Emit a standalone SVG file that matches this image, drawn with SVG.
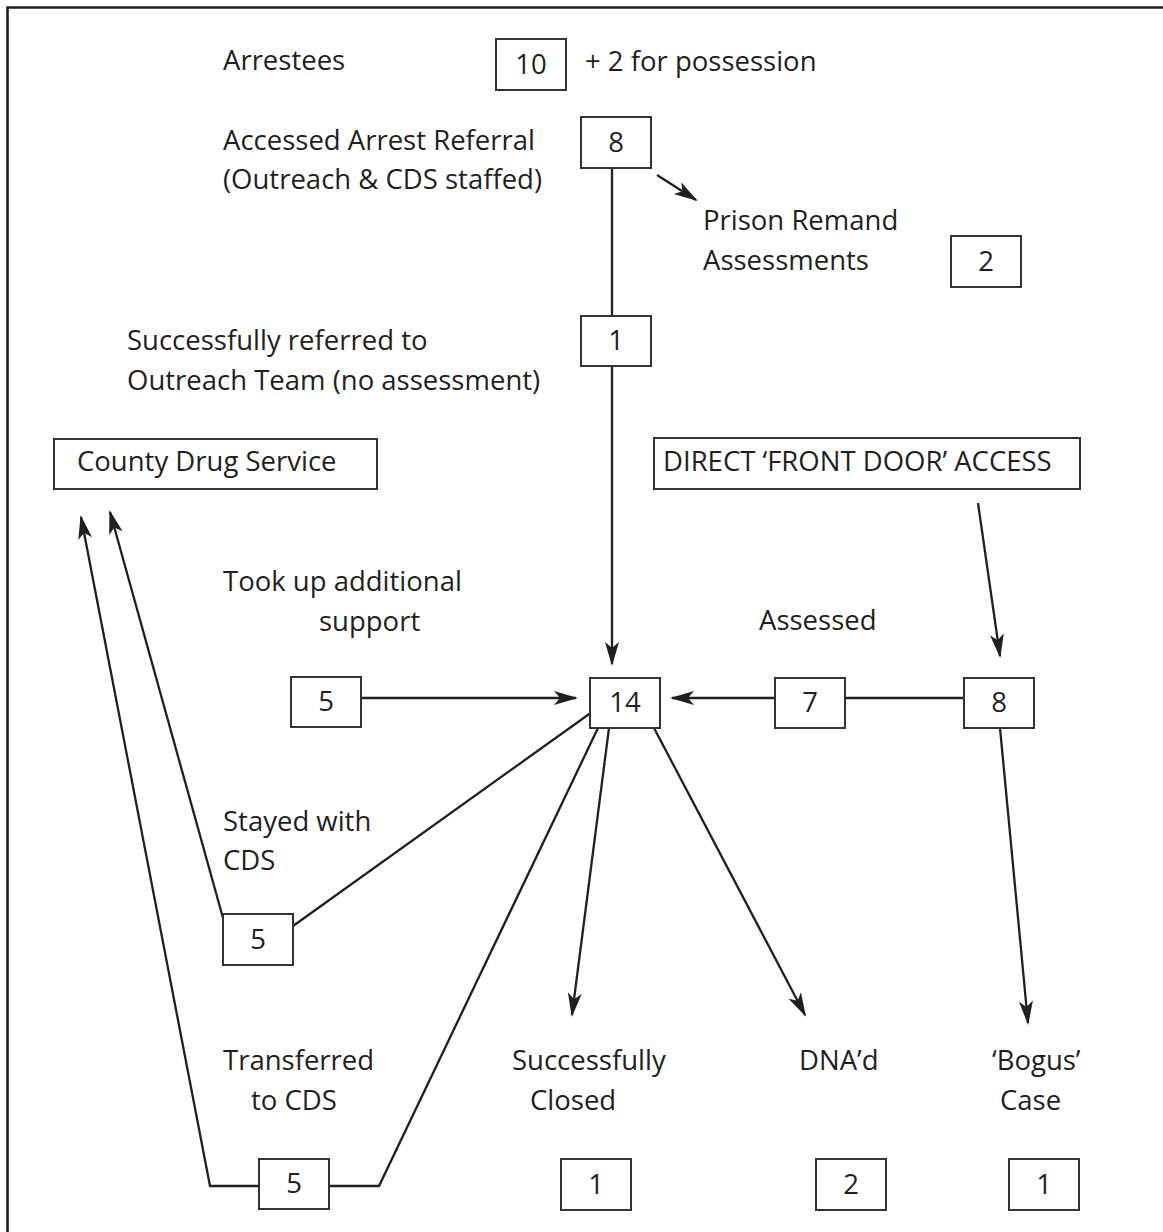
<svg xmlns="http://www.w3.org/2000/svg" width="1163" height="1232" viewBox="0 0 1163 1232">
  <defs>
    <marker id="arrow" markerUnits="userSpaceOnUse" markerWidth="26" markerHeight="16" refX="22" refY="7" orient="auto">
      <path d="M0,0 L24,7 L0,14 L6,7 Z" fill="#231f20"/>
    </marker>
    <style>
      .box { fill: #ffffff; stroke: #333333; stroke-width: 2; }
      .lbl { font-family: "Open Sans", "Noto Sans", "Liberation Sans", sans-serif; font-size: 27.5px; fill: #231f20; }
      .num { font-family: "Open Sans", "Noto Sans", "Liberation Sans", sans-serif; font-size: 27.5px; fill: #231f20; text-anchor: middle; }
      .wire { fill: none; stroke: #231f20; stroke-width: 2.3; }
      .arr { marker-end: url(#arrow); }
    </style>
  </defs>
  <rect width="1163" height="1232" fill="#ffffff"/>

  <!-- frame: top and left edges -->
  <path d="M7.5,1232 V7.5 H1163" fill="none" stroke="#231f20" stroke-width="2.6"/>

  <!-- free-standing labels -->
  <g id="labels">
    <text class="lbl" x="223" y="70">Arrestees</text>
    <text class="lbl" x="585" y="71">+ 2 for possession</text>
    <text class="lbl" x="223" y="150">Accessed Arrest Referral</text>
    <text class="lbl" x="223" y="189">(Outreach &amp; CDS staffed)</text>
    <text class="lbl" x="703" y="230">Prison Remand</text>
    <text class="lbl" x="703" y="270">Assessments</text>
    <text class="lbl" x="127" y="350">Successfully referred to</text>
    <text class="lbl" x="127" y="390">Outreach Team (no assessment)</text>
    <text class="lbl" x="223" y="591">Took up additional</text>
    <text class="lbl" x="319" y="631">support</text>
    <text class="lbl" x="759" y="630">Assessed</text>
    <text class="lbl" x="223" y="831">Stayed with</text>
    <text class="lbl" x="223" y="870">CDS</text>
    <text class="lbl" x="223" y="1070">Transferred</text>
    <text class="lbl" x="251" y="1110">to CDS</text>
    <text class="lbl" x="512" y="1070">Successfully</text>
    <text class="lbl" x="530" y="1110">Closed</text>
    <text class="lbl" x="799" y="1070">DNA’d</text>
    <text class="lbl" x="992" y="1070">‘Bogus’</text>
    <text class="lbl" x="1000" y="1110">Case</text>
  </g>

  <!-- connectors -->
  <g id="connectors">
    <line class="wire" x1="612" y1="168" x2="612" y2="316"/>
    <line class="wire arr" x1="612" y1="366" x2="612" y2="664"/>
    <line class="wire arr" x1="657" y1="175" x2="696" y2="200"/>
    <line class="wire arr" x1="978" y1="503" x2="1000" y2="656"/>
    <line class="wire" x1="964" y1="698" x2="845" y2="698"/>
    <line class="wire arr" x1="775" y1="698" x2="672" y2="698"/>
    <line class="wire arr" x1="361" y1="698" x2="576" y2="698"/>
    <line class="wire" x1="592" y1="712" x2="293" y2="926"/>
    <line class="wire arr" x1="223" y1="918" x2="110" y2="512"/>
    <polyline class="wire" points="598,728 379,1186 329,1186"/>
    <polyline class="wire arr" points="259,1186 210,1186 81,517"/>
    <line class="wire arr" x1="609" y1="728" x2="572" y2="1015"/>
    <line class="wire arr" x1="654" y1="728" x2="805" y2="1015"/>
    <line class="wire arr" x1="1000" y1="728" x2="1028" y2="1023"/>
  </g>

  <!-- nodes -->
  <g id="n-arrestees"><rect class="box" x="496" y="39" width="70" height="51"/><text class="num" x="531" y="74">10</text></g>
  <g id="n-referral"><rect class="box" x="581" y="117" width="70" height="51"/><text class="num" x="616" y="152">8</text></g>
  <g id="n-remand"><rect class="box" x="951" y="236" width="70" height="51"/><text class="num" x="986" y="271">2</text></g>
  <g id="n-outreach"><rect class="box" x="581" y="316" width="70" height="50"/><text class="num" x="616" y="350">1</text></g>
  <g id="n-cds"><rect class="box" x="54" y="439" width="323" height="50"/><text class="lbl" x="77" y="471">County Drug Service</text></g>
  <g id="n-frontdoor"><rect class="box" x="654" y="438" width="426" height="51"/><text class="lbl" x="663" y="471">DIRECT ‘FRONT DOOR’ ACCESS</text></g>
  <g id="n-additional"><rect class="box" x="291" y="677" width="70" height="50"/><text class="num" x="326" y="711">5</text></g>
  <g id="n-total"><rect class="box" x="590" y="678" width="70" height="50"/><text class="num" x="625" y="712">14</text></g>
  <g id="n-assessed"><rect class="box" x="775" y="678" width="70" height="50"/><text class="num" x="810" y="712">7</text></g>
  <g id="n-direct"><rect class="box" x="964" y="678" width="70" height="50"/><text class="num" x="999" y="712">8</text></g>
  <g id="n-stayed"><rect class="box" x="223" y="914" width="70" height="51"/><text class="num" x="258" y="949">5</text></g>
  <g id="n-transferred"><rect class="box" x="259" y="1159" width="70" height="50"/><text class="num" x="294" y="1193">5</text></g>
  <g id="n-closed"><rect class="box" x="561" y="1159" width="70" height="51"/><text class="num" x="596" y="1194">1</text></g>
  <g id="n-dna"><rect class="box" x="816" y="1159" width="70" height="51"/><text class="num" x="851" y="1194">2</text></g>
  <g id="n-bogus"><rect class="box" x="1009" y="1159" width="70" height="51"/><text class="num" x="1044" y="1194">1</text></g>
</svg>
